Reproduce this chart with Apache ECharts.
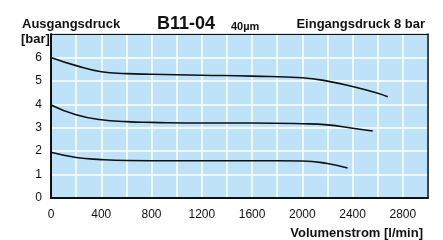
<!DOCTYPE html>
<html><head><meta charset="utf-8">
<script src="https://cdn.jsdelivr.net/npm/echarts@6/dist/echarts.min.js"></script>
<style>html,body{margin:0;padding:0;background:#fff}#c{width:443px;height:240px}</style>
</head><body><div id="c"></div>
<script>
const upperX = [0, 200, 400, 600, 800, 1200, 1600, 2000, 2200, 2400, 2600, 2680];
const upperY = [6.0, 5.65, 5.39, 5.31, 5.28, 5.24, 5.2, 5.13, 4.99, 4.76, 4.47, 4.32];
const middleX = [0, 200, 400, 600, 800, 1200, 1600, 2000, 2200, 2400, 2560];
const middleY = [3.97, 3.55, 3.34, 3.26, 3.23, 3.2, 3.2, 3.17, 3.12, 2.98, 2.86];
const lowerX = [0, 200, 400, 600, 1000, 1400, 1800, 2000, 2200, 2360];
const lowerY = [1.95, 1.73, 1.64, 1.6, 1.59, 1.59, 1.59, 1.58, 1.47, 1.28];
const xTickStep = 400;
const yLabels = [0, 1, 2, 3, 4, 5, 6];

function pairs(xs, ys) { return xs.map((x, i) => [x, ys[i]]); }
const font = '"Liberation Sans", Arial, sans-serif';
const chart = echarts.init(document.getElementById('c'));
const lineSeries = (xs, ys) => ({
  type: 'line', data: pairs(xs, ys), smooth: 0.5, showSymbol: false,
  lineStyle: { color: '#111', width: 1.6 }, z: 5
});
const bold = (size) => ({ fontFamily: font, fontSize: size, fontWeight: 'bold', color: '#111' });
chart.setOption({
  animation: false,
  title: [
    { text: 'Ausgangsdruck', left: 17, top: 13, textStyle: bold(13) },
    { text: '[bar]', left: 16, top: 28, textStyle: bold(13) },
    { text: 'B11-04', left: 152, top: 10, textStyle: bold(18) },
    { text: '40µm', left: 226, top: 16, textStyle: bold(11) },
    { text: 'Eingangsdruck 8 bar', right: 13, top: 13, textStyle: bold(13) },
    { text: 'Volumenstrom [l/min]', right: 15, top: 222, textStyle: bold(13) }
  ],
  grid: { left: 51, top: 34, width: 377, height: 164, show: true, backgroundColor: '#bee3f8', borderColor: '#111', borderWidth: 1 },
  xAxis: [{
    type: 'value', min: 0, max: 3000, interval: 200,
    axisLine: { show: true, onZero: false, lineStyle: { color: '#111', width: 2 } },
    axisTick: { show: false },
    splitLine: { show: true, lineStyle: { color: '#ffffff', width: 1.5 } },
    axisLabel: { margin: 11, fontFamily: font, fontSize: 12, color: '#111',
      formatter: v => (v % xTickStep === 0 && v <= 2800) ? String(v) : '' }
  }, {
    type: 'value', min: 0, max: 3000, position: 'top',
    axisLine: { show: true, onZero: false, lineStyle: { color: '#111', width: 1.2 } },
    axisTick: { show: false }, axisLabel: { show: false }, splitLine: { show: false }
  }],
  yAxis: [{
    type: 'value', min: 0, max: 7, interval: 1,
    axisLine: { show: true, onZero: false, lineStyle: { color: '#111', width: 2 } },
    axisTick: { show: false },
    splitLine: { show: true, lineStyle: { color: '#ffffff', width: 1.5 } },
    axisLabel: { margin: 9, fontFamily: font, fontSize: 12, color: '#111',
      formatter: v => yLabels.includes(v) ? String(v) : '' }
  }, {
    type: 'value', min: 0, max: 7, position: 'right',
    axisLine: { show: true, onZero: false, lineStyle: { color: '#111', width: 1.5 } },
    axisTick: { show: false }, axisLabel: { show: false }, splitLine: { show: false }
  }],
  series: [lineSeries(upperX, upperY), lineSeries(middleX, middleY), lineSeries(lowerX, lowerY)]
});
</script></body></html>
